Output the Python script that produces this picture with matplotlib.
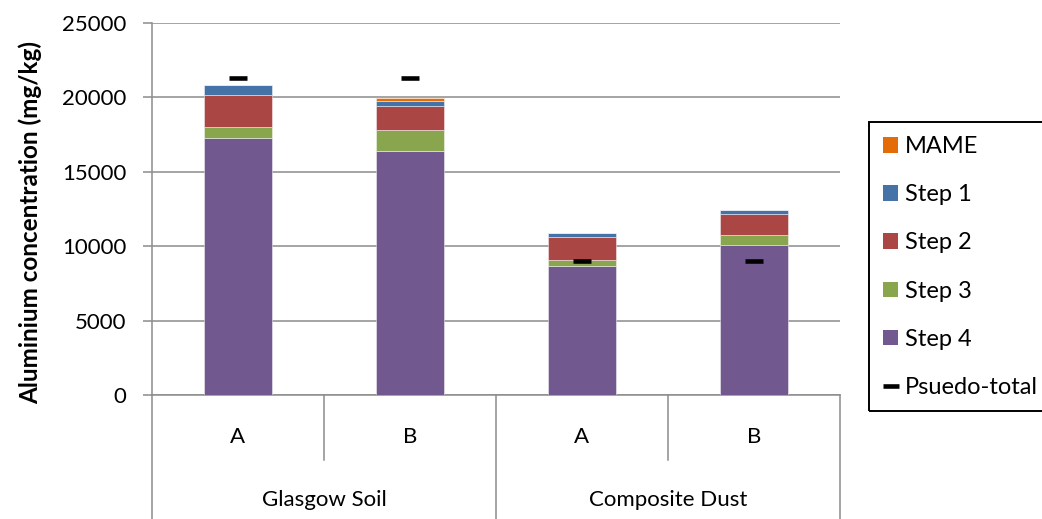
import matplotlib
matplotlib.use("Agg")
import matplotlib.pyplot as plt
import numpy as np
from matplotlib.patches import Patch, Rectangle
from matplotlib.lines import Line2D

plt.rcParams['font.family'] = ['Lato', 'DejaVu Sans']

# Fractionation of aluminium per sample (mg/kg)
samples = ["A", "B", "A", "B"]
groups = ["Glasgow Soil", "Composite Dust"]
step4 = [17250, 16370, 8700, 10090]
step3 = [750, 1410, 360, 630]
step2 = [2130, 1660, 1565, 1430]
step1 = [700, 310, 295, 270]
mame = [0, 230, 0, 0]
pseudo_total = [21300, 21300, 9000, 9000]

series = [("Step 4", step4, "#71588F"),
          ("Step 3", step3, "#89A54E"),
          ("Step 2", step2, "#AA4643"),
          ("Step 1", step1, "#4572A7"),
          ("MAME", mame, "#E36C09")]

W, H = 1042, 519
fig = plt.figure(figsize=(W / 100, H / 100), dpi=100)
ax = fig.add_axes([152 / W, 124 / H, 688 / W, 372 / H])

x = np.arange(len(samples))
bottom = np.zeros(len(samples))
for name, vals, col in series:
    vals = np.array(vals, dtype=float)
    ax.bar(x, vals, 0.4, bottom=bottom, color=col,
           edgecolor=(1, 1, 1, 0.45), linewidth=0.7, zorder=3)
    bottom += vals

ax.plot(x, pseudo_total, linestyle="none", marker="_", markersize=13.5,
        markeredgewidth=3.3, color="black", zorder=4)

ax.set_xlim(-0.5, 3.5)
ax.set_ylim(0, 25000)
ax.set_yticks(np.arange(0, 25001, 5000))
ax.yaxis.grid(True, color="#8C8C8C", linewidth=1.1, zorder=0)
ax.set_axisbelow(True)
for s in ["top", "right"]:
    ax.spines[s].set_visible(False)
ax.spines["left"].set_color("#8C8C8C")
ax.spines["left"].set_linewidth(1.1)
ax.spines["bottom"].set_color("#8C8C8C")
ax.spines["bottom"].set_linewidth(1.1)
ax.tick_params(axis="y", length=6.5, width=1.1, color="#8C8C8C",
               labelsize=16, pad=12, labelcolor="black")
ax.set_xticks([])
ax.set_ylabel("Aluminium concentration (mg/kg)", fontsize=17.5,
              fontweight="bold", va="center")
ax.yaxis.set_label_coords(-0.177, 0.465)

# Two-level category axis
tr = ax.get_xaxis_transform()
for xi in [0.5, 2.5]:
    ax.plot([xi, xi], [0, -0.175], transform=tr, color="#8C8C8C",
            linewidth=1.1, clip_on=False)
for xi in [-0.5, 1.5, 3.5]:
    ax.plot([xi, xi], [0, -0.34], transform=tr, color="#8C8C8C",
            linewidth=1.1, clip_on=False)
for xi, lab in zip(x, samples):
    ax.text(xi, -0.113, lab, transform=tr, ha="center", va="center",
            fontsize=16)
for gi, g in enumerate(groups):
    ax.text(gi * 2 + 0.5, -0.282, g, transform=tr, ha="center",
            va="center", fontsize=16)

handles = [Patch(facecolor=c, label=n) for n, _, c in reversed(series)]
handles.append(Line2D([], [], linestyle="none", marker="_", markersize=11,
                      markeredgewidth=3.3, color="black",
                      label="Psuedo-total"))
leg = fig.legend(handles=handles, loc="upper left",
                 bbox_to_anchor=(869 / W, 1 - 122 / H), fontsize=17,
                 frameon=False, borderpad=0.6, labelspacing=1.15,
                 handlelength=0.64, handleheight=0.64, handletextpad=0.3,
                 borderaxespad=0)
# Legend border running off the right edge of the figure
fig.add_artist(Rectangle((869 / W, 1 - 411 / H), 200 / W, 289 / H,
                         transform=fig.transFigure, fill=False,
                         edgecolor="black", linewidth=1.4))

fig.savefig("out.png", dpi=100, facecolor="white")
